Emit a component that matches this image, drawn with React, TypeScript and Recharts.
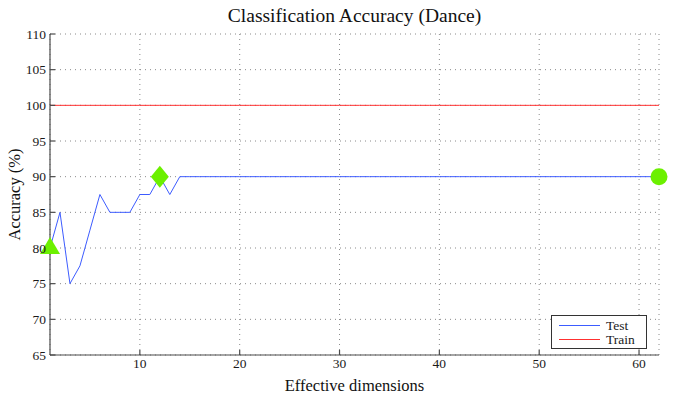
import React from 'react';
import {
  ComposedChart,
  Line,
  Scatter,
  XAxis,
  YAxis,
  CartesianGrid,
  Label,
} from 'recharts';

// ---------------------------------------------------------------------------
// Data
// ---------------------------------------------------------------------------

const dims = [
  1, 2, 3, 4, 5, 6, 7, 8, 9, 10, 11, 12, 13, 14, 15, 16, 17, 18, 19, 20,
  21, 22, 23, 24, 25, 26, 27, 28, 29, 30, 31, 32, 33, 34, 35, 36, 37, 38, 39, 40,
  41, 42, 43, 44, 45, 46, 47, 48, 49, 50, 51, 52, 53, 54, 55, 56, 57, 58, 59, 60,
  61, 62,
];

const testAcc = [
  80, 85, 75, 77.5, 82.5, 87.5, 85, 85, 85, 87.5, 87.5, 90, 87.5, 90, 90, 90, 90, 90, 90, 90,
  90, 90, 90, 90, 90, 90, 90, 90, 90, 90, 90, 90, 90, 90, 90, 90, 90, 90, 90, 90,
  90, 90, 90, 90, 90, 90, 90, 90, 90, 90, 90, 90, 90, 90, 90, 90, 90, 90, 90, 90,
  90, 90,
];

const trainAcc = [
  100, 100, 100, 100, 100, 100, 100, 100, 100, 100, 100, 100, 100, 100, 100, 100, 100, 100, 100, 100,
  100, 100, 100, 100, 100, 100, 100, 100, 100, 100, 100, 100, 100, 100, 100, 100, 100, 100, 100, 100,
  100, 100, 100, 100, 100, 100, 100, 100, 100, 100, 100, 100, 100, 100, 100, 100, 100, 100, 100, 100,
  100, 100,
];

// highlighted points: first, best, last
const markFirst = [{ x: 1, y: 80 }];
const markBest = [{ x: 12, y: 90 }];
const markLast = [{ x: 62, y: 90 }];

const xTicks = [10, 20, 30, 40, 50, 60];
const yTicks = [65, 70, 75, 80, 85, 90, 95, 100, 105, 110];

const testData = dims.map((d, i) => ({ x: d, y: testAcc[i] }));
const trainData = dims.map((d, i) => ({ x: d, y: trainAcc[i] }));

// ---------------------------------------------------------------------------
// Styles
// ---------------------------------------------------------------------------

const FONT = 'Liberation Serif, DejaVu Serif, serif';
const AXIS = '#4a4a4a';
const TEST_COLOR = '#3d5cff';
const TRAIN_COLOR = '#ff3030';
const MARK_COLOR = '#6cf000';

const tickStyle = { fontSize: 13.5, fill: '#1a1a1a', fontFamily: FONT };
const noLabel = () => <text />;

const Triangle = (props: any) => {
  const { cx, cy } = props;
  return (
    <polygon
      points={`${cx},${cy - 11} ${cx - 10},${cy + 6} ${cx + 10},${cy + 6}`}
      fill={MARK_COLOR}
    />
  );
};

const Diamond = (props: any) => {
  const { cx, cy } = props;
  return (
    <polygon
      points={`${cx},${cy - 11} ${cx + 9},${cy} ${cx},${cy + 11} ${cx - 9},${cy}`}
      fill={MARK_COLOR}
    />
  );
};

const Dot = (props: any) => {
  const { cx, cy } = props;
  return <circle cx={cx} cy={cy} r={8.5} fill={MARK_COLOR} />;
};

const legendItems = [
  { name: 'Test', color: TEST_COLOR },
  { name: 'Train', color: TRAIN_COLOR },
];

const LegendBox = () => (
  <div
    style={{
      position: 'absolute',
      left: 551,
      top: 315,
      border: '1px solid #333',
      background: '#fff',
      width: 96,
      height: 34,
      boxSizing: 'border-box',
      padding: '2px 0 0 7px',
      fontFamily: FONT,
      fontSize: 13.5,
      color: '#1a1a1a',
      lineHeight: '13px',
    }}
  >
    {legendItems.map((item) => (
      <div key={item.name} style={{ display: 'flex', alignItems: 'center', height: 14 }}>
        <span
          style={{
            display: 'inline-block',
            width: 41,
            height: 0,
            borderTop: `1px solid ${item.color}`,
            marginRight: 6,
          }}
        />
        <span>{item.name}</span>
      </div>
    ))}
  </div>
);

export default function App() {
  return (
    <div
      style={{
        position: 'absolute',
        left: 0,
        top: 0,
        width: 673,
        height: 396,
        background: '#fff',
        fontFamily: FONT,
      }}
    >
      <div
        style={{
          position: 'absolute',
          left: 50,
          top: 4,
          width: 609,
          textAlign: 'center',
          fontSize: 19.5,
          lineHeight: '24px',
          color: '#111',
        }}
      >
        Classification Accuracy (Dance)
      </div>
      <ComposedChart
        width={673}
        height={396}
        margin={{ top: 34, right: 14, bottom: 1, left: 10 }}
        style={{ fontFamily: FONT }}
      >
        <CartesianGrid stroke="#8a8a8a" strokeDasharray="1 4" />
        <XAxis
          type="number"
          dataKey="x"
          domain={[1, 62]}
          ticks={xTicks}
          height={40}
          stroke={AXIS}
          strokeWidth={1.2}
          tickSize={-5}
          tickMargin={8}
          tick={tickStyle}
        >
          <Label
            value="Effective dimensions"
            position="insideBottom"
            offset={4}
            fontFamily={FONT}
            style={{ fontSize: 16.5, fill: '#111', fontFamily: FONT }}
          />
        </XAxis>
        <XAxis
          xAxisId="top"
          orientation="top"
          type="number"
          domain={[1, 62]}
          ticks={xTicks}
          height={0}
          stroke={AXIS}
          strokeWidth={1.2}
          tickSize={-5}
          tick={noLabel}
        />
        <YAxis
          type="number"
          domain={[65, 110]}
          ticks={yTicks}
          width={40}
          stroke={AXIS}
          strokeWidth={1.2}
          tickSize={-5}
          tickMargin={9}
          tick={tickStyle}
        >
          <Label
            value="Accuracy (%)"
            angle={-90}
            position="insideLeft"
            offset={4}
            fontFamily={FONT}
            style={{ fontSize: 16.5, fill: '#111', fontFamily: FONT, textAnchor: 'middle' }}
          />
        </YAxis>
        <YAxis
          yAxisId="right"
          orientation="right"
          type="number"
          domain={[65, 110]}
          ticks={yTicks}
          width={0}
          stroke={AXIS}
          strokeWidth={1.2}
          tickSize={-5}
          tick={noLabel}
        />
        <Line
          data={trainData}
          dataKey="y"
          name="Train"
          stroke={TRAIN_COLOR}
          strokeWidth={1}
          dot={false}
          activeDot={false}
          isAnimationActive={false}
        />
        <Line
          data={testData}
          dataKey="y"
          name="Test"
          stroke={TEST_COLOR}
          strokeWidth={1}
          dot={false}
          activeDot={false}
          isAnimationActive={false}
        />
        <Scatter data={markFirst} dataKey="y" shape={Triangle} isAnimationActive={false} />
        <Scatter data={markBest} dataKey="y" shape={Diamond} isAnimationActive={false} />
        <Scatter data={markLast} dataKey="y" shape={Dot} isAnimationActive={false} />
      </ComposedChart>
      <LegendBox />
    </div>
  );
}
